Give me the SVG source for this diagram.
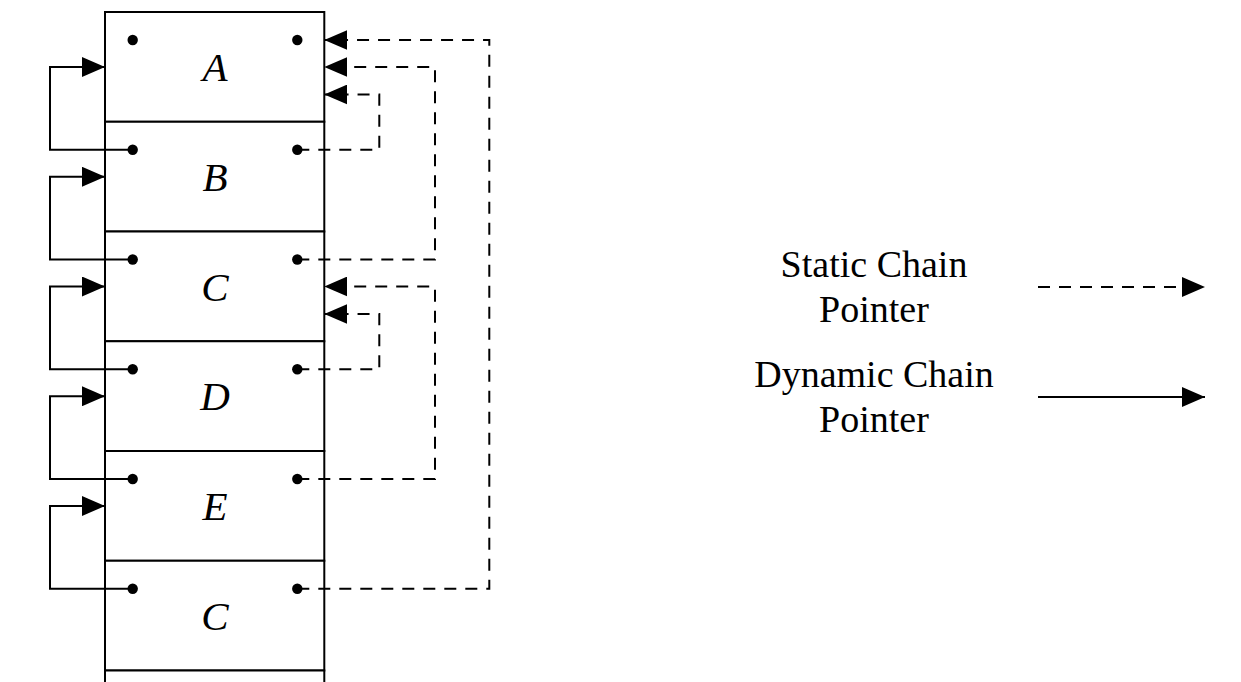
<svg xmlns="http://www.w3.org/2000/svg" width="1241" height="682" viewBox="0 0 1241 682">
  <defs>
    <marker id="ah" markerUnits="userSpaceOnUse" markerWidth="23" markerHeight="20" refX="23" refY="10" orient="auto" viewBox="0 0 23 20">
      <path d="M0,0 L23,10 L0,20 Z" fill="#000"/>
    </marker>
    <style>
      .box { fill: #fff; stroke: #000; stroke-width: 2; }
      .dot { fill: #000; }
      .lbl { font-family: "Liberation Serif", "DejaVu Serif", serif; font-style: italic; font-size: 41px; text-anchor: middle; fill: #000; }
      .leg { font-family: "Liberation Serif", "DejaVu Serif", serif; font-size: 38px; text-anchor: middle; fill: #000; }
      .dyn { fill: none; stroke: #000; stroke-width: 2; marker-end: url(#ah); }
      .sta { fill: none; stroke: #000; stroke-width: 2; stroke-dasharray: 12 9; marker-end: url(#ah); }
    </style>
  </defs>
  <rect width="1241" height="682" fill="#fff"/>

  <g id="frameA">
    <rect class="box" x="105" y="12" width="219.3" height="109.75"/>
    <circle class="dot" cx="132.7" cy="40" r="5.2"/>
    <circle class="dot" cx="297.3" cy="40" r="5.2"/>
    <text class="lbl" x="215" y="81">A</text>
  </g>
  <g id="frameB">
    <rect class="box" x="105" y="121.75" width="219.3" height="109.75"/>
    <circle class="dot" cx="132.7" cy="149.75" r="5.2"/>
    <circle class="dot" cx="297.3" cy="149.75" r="5.2"/>
    <text class="lbl" x="215" y="190.75">B</text>
  </g>
  <g id="frameC">
    <rect class="box" x="105" y="231.5" width="219.3" height="109.75"/>
    <circle class="dot" cx="132.7" cy="259.5" r="5.2"/>
    <circle class="dot" cx="297.3" cy="259.5" r="5.2"/>
    <text class="lbl" x="215" y="300.5">C</text>
  </g>
  <g id="frameD">
    <rect class="box" x="105" y="341.25" width="219.3" height="109.75"/>
    <circle class="dot" cx="132.7" cy="369.25" r="5.2"/>
    <circle class="dot" cx="297.3" cy="369.25" r="5.2"/>
    <text class="lbl" x="215" y="410.25">D</text>
  </g>
  <g id="frameE">
    <rect class="box" x="105" y="451" width="219.3" height="109.75"/>
    <circle class="dot" cx="132.7" cy="479" r="5.2"/>
    <circle class="dot" cx="297.3" cy="479" r="5.2"/>
    <text class="lbl" x="215" y="520">E</text>
  </g>
  <g id="frameC2">
    <rect class="box" x="105" y="560.75" width="219.3" height="109.75"/>
    <circle class="dot" cx="132.7" cy="588.75" r="5.2"/>
    <circle class="dot" cx="297.3" cy="588.75" r="5.2"/>
    <text class="lbl" x="215" y="629.75">C</text>
  </g>
  <g id="frameNext">
    <rect class="box" x="105" y="670.5" width="219.3" height="40"/>
  </g>

  <g id="connectors">
    <path class="dyn" d="M132.7,149.75 H50 V67 H105"/>
    <path class="dyn" d="M132.7,259.5 H50 V176.75 H105"/>
    <path class="dyn" d="M132.7,369.25 H50 V286.5 H105"/>
    <path class="dyn" d="M132.7,479 H50 V396.25 H105"/>
    <path class="dyn" d="M132.7,588.75 H50 V506 H105"/>

    <path class="sta" d="M297.3,149.75 H379.3 V94.5 H324.3"/>
    <path class="sta" d="M297.3,259.5 H435 V67 H324.3"/>
    <path class="sta" d="M297.3,588.75 H489.3 V40 H324.3"/>
    <path class="sta" d="M297.3,369.25 H379.3 V314 H324.3"/>
    <path class="sta" d="M297.3,479 H435 V286.5 H324.3"/>

    <path class="sta" d="M1038,287 H1205"/>
    <path class="dyn" d="M1038,397 H1205"/>
  </g>

  <g id="legend">
    <text class="leg" x="874" y="277">Static Chain</text>
    <text class="leg" x="874" y="322">Pointer</text>
    <text class="leg" x="874" y="387">Dynamic Chain</text>
    <text class="leg" x="874" y="432">Pointer</text>
  </g>
</svg>
